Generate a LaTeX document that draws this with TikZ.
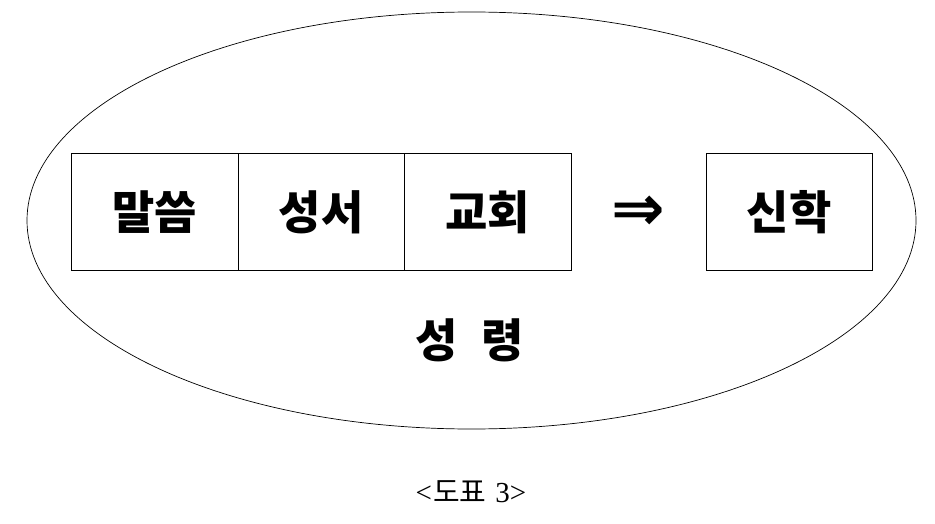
\documentclass[tikz,border=0pt]{standalone}
\usepackage{fontspec}
\setmainfont{Noto Sans CJK KR}
\newfontfamily\capserif{Liberation Serif}
\newfontfamily\symfont{DejaVu Sans}
\usetikzlibrary{shapes.geometric}
\begin{document}
\begin{tikzpicture}[x=1pt,y=-1pt,
  cell/.style={draw, line width=0.9pt, minimum width=166.5pt, minimum height=117pt, inner sep=0pt, anchor=north west, font=\fontsize{46}{46}\selectfont\bfseries},
  label/.style={font=\fontsize{46}{46}\selectfont\bfseries, inner sep=0pt}]
\useasboundingbox (0,0) rectangle (935,524);
\node[draw, line width=0.7pt, ellipse, minimum width=889pt, minimum height=417pt, inner sep=0pt] (spirit) at (471.5,220.5) {};
\node[cell] (word) at (71,153) {말씀};
\node[cell] (bible) at (237.5,153) {성서};
\node[cell] (church) at (404,153) {교회};
\node[cell] (theo) at (705.5,153) {신학};
\node[inner sep=0pt, font=\fontsize{64}{64}\selectfont\symfont\bfseries] (arrow) at (638.5,213) {⇒};
\node[label] (sr) at (470,340) {성\hspace{24pt}령};
\node[inner sep=0pt, font=\fontsize{29}{29}\selectfont\addfontfeatures{}] (cap) at (471,492) {{\capserif<}\kern1pt 도표\hspace{9pt}{\capserif 3>}};
\end{tikzpicture}
\end{document}
